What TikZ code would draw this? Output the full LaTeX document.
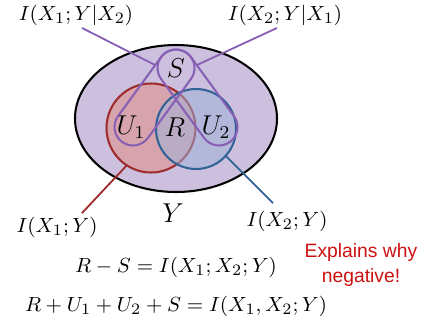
\documentclass[tikz,border=0pt]{standalone}
\usepackage{amsmath}
\usepackage{fontspec}
\newfontfamily\notefont{Liberation Sans}
\usetikzlibrary{shapes.geometric, positioning, calc}
\definecolor{yfill}{RGB}{204,192,222}
\definecolor{xonedraw}{RGB}{158,44,44}
\definecolor{xonefill}{RGB}{226,138,128}
\definecolor{xtwodraw}{RGB}{48,98,150}
\definecolor{xtwofill}{RGB}{156,178,218}
\definecolor{synpurple}{RGB}{135,95,180}
\definecolor{notered}{RGB}{204,16,16}
\newcommand{\pxunit}{0.44pt}
\begin{document}
\begin{tikzpicture}[x=\pxunit, y=-\pxunit,
  setbox/.style={ellipse, draw=black, line width=0.9pt, fill=yfill, inner sep=0pt, outer sep=0pt},
  vcirc/.style={circle, line width=0.9pt, inner sep=0pt, outer sep=0pt, fill opacity=0.5, draw opacity=1, minimum size=#1*\pxunit},
  loopbox/.style={rectangle, draw=synpurple, line width=0.9pt, rounded corners=18.5*\pxunit, minimum width=110*\pxunit, minimum height=37*\pxunit, inner sep=0pt, outer sep=0pt},
  region/.style={font=\large, inner sep=0pt},
  lbl/.style={inner sep=1pt, font=\fontsize{9.5}{11.5}\selectfont},
  link/.style={line width=0.8pt}
]
\useasboundingbox (0,0) rectangle (424,324);
% Venn sets
\node[setbox, minimum width=202*\pxunit, minimum height=147*\pxunit] (setY) at (176,118.5) {};
\node[vcirc=89, draw=xonedraw, fill=xonefill] (cX1) at (151,128) {};
\node[vcirc=80, draw=xtwodraw, fill=xtwofill] (cX2) at (196,129) {};
% synergy loops
\node[loopbox, rotate=53.9] (loopL) at (154.5,97.5) {};
\node[loopbox, rotate=-53.9] (loopR) at (197.5,97.5) {};
% region names
\node[region] (nS) at (176,68) {$S$};
\node[region] (nU1) at (131,127) {$U_1$};
\node[region] (nR) at (175,127) {$R$};
\node[region] (nU2) at (216,127) {$U_2$};
\node[region] (nY) at (173,213) {$Y$};
% labels
\node[lbl] (lblA) at (76,15) {$I(X_1;Y|X_2)$};
\node[lbl] (lblB) at (285,15) {$I(X_2;Y|X_1)$};
\node[lbl] (lblC) at (57,227) {$I(X_1;Y)$};
\node[lbl] (lblD) at (287,221) {$I(X_2;Y)$};
\node[lbl] (eqA) at (176,267) {$R-S=I(X_1;X_2;Y)$};
\node[lbl] (eqB) at (176,306) {$R+U_1+U_2+S=I(X_1,X_2;Y)$};
\node[inner sep=1pt, font=\notefont\fontsize{8.5}{10.6}\selectfont, text=notered, align=center] (note) at (361,265) {Explains why\\negative!};
% connectors
\coordinate (tipL) at (155,65);
\coordinate (tipR) at (197,65);
\draw[link, synpurple] ($(lblA.south)+(6,0)$) -- (tipL);
\draw[link, synpurple] ($(lblB.south)+(-8,0)$) -- (tipR);
\draw[link, xonedraw] (cX1.237) -- ($(lblC.north)+(25,-1)$);
\draw[link, xtwodraw] (cX2.-42) -- ($(lblD.north)+(-14,-5)$);
\end{tikzpicture}
\end{document}
